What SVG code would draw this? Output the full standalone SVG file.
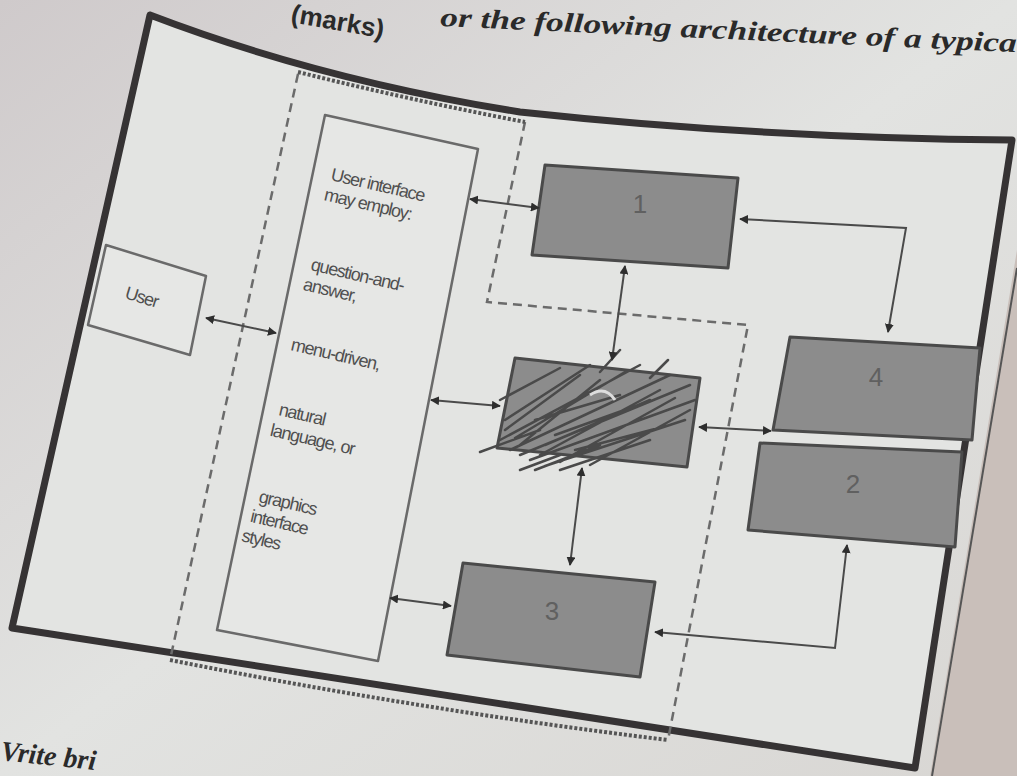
<svg xmlns="http://www.w3.org/2000/svg" width="1017" height="776" viewBox="0 0 1017 776">
<defs>
<linearGradient id="bg" x1="0" y1="0" x2="1" y2="1">
<stop offset="0" stop-color="#cfcacb"/>
<stop offset="0.5" stop-color="#e2e3e1"/>
<stop offset="1" stop-color="#d8d6d3"/>
</linearGradient>
<marker id="ah" viewBox="0 0 10 10" refX="9" refY="5" markerWidth="4.5" markerHeight="4.5" orient="auto-start-reverse">
<path d="M0,0 L10,5 L0,10 z" fill="#2e2e2e"/>
</marker>
<style>
.frame{fill:#e3e4e2;stroke:#363334;stroke-width:7;stroke-linejoin:round}
.dash{fill:none;stroke:#6b6b6b;stroke-width:2.5;stroke-dasharray:9 6}
.wavy{fill:none;stroke:#555;stroke-width:4;stroke-dasharray:3 2}
.box{fill:#8c8c8c;stroke:#4a4a4a;stroke-width:3;stroke-linejoin:round}
.wbox{fill:#e6e7e5;stroke:#6a6a6a;stroke-width:2.5;stroke-linejoin:round}
.con{fill:none;stroke:#4a4a4a;stroke-width:2;marker-start:url(#ah);marker-end:url(#ah)}
.t{font-family:"Liberation Sans",Arial,sans-serif;fill:#505050;font-size:18px;letter-spacing:-1.2px}
.num{font-family:"Liberation Sans",Arial,sans-serif;fill:#606060;font-size:26px;text-anchor:middle}
.hdr{font-family:"Liberation Serif","Times New Roman",serif;font-weight:bold;font-style:italic;fill:#2a2a2a;font-size:27px}
.scr{fill:none;stroke:#4a4a4a;stroke-width:2.5;stroke-linecap:round}
</style>
</defs>
<rect width="1017" height="776" fill="url(#bg)"/>
<polygon points="1017,250 1017,776 930,776" fill="#c9bfba"/>
<g id="header">
<text x="290" y="22" transform="rotate(10 290 22)" style="font-family:'Liberation Sans',Arial,sans-serif;font-weight:bold;fill:#2a2a2a;font-size:26px">(marks)</text>
<text class="hdr" x="440" y="26" textLength="577" lengthAdjust="spacingAndGlyphs" transform="rotate(2.6 440 26)">or the following architecture of a typica</text>
<text class="hdr" x="0" y="760" transform="rotate(6 0 760)" style="font-size:28px">Vrite bri</text>
</g>
<g id="frame">
<path class="frame" d="M150,15 Q320,80 520,112 Q760,138 1012,140 L915,768 L12,628 Z"/>
<path d="M1017,268 L932,776" fill="none" stroke="#555" stroke-width="2"/>
</g>
<g id="dashed-region">
<path class="dash" d="M298,74 L170,660"/>
<path class="dash" d="M525,122 L487,302 L748,325 L668,740"/>
<path class="wavy" d="M298,72 Q410,100 525,122"/>
<path class="wavy" d="M170,660 Q420,710 668,740"/>
</g>
<g id="user">
<polygon class="wbox" points="106,245 206,276 190,355 88,325"/>
<text class="t" x="124" y="298" transform="rotate(17 124 298)" style="font-size:18px">User</text>
</g>
<g id="ui">
<polygon class="wbox" points="325,115 478,149 378,661 217,630"/>
<g transform="rotate(13 330 180)">
<text class="t" x="330" y="180">User interface</text>
<text class="t" x="328" y="201">may employ:</text>
</g>
<g transform="rotate(13 310 270)">
<text class="t" x="310" y="270">question-and-</text>
<text class="t" x="307" y="291">answer,</text>
</g>
<text class="t" x="290" y="350" transform="rotate(13 290 350)">menu-driven,</text>
<g transform="rotate(13 278 415)">
<text class="t" x="278" y="415">natural</text>
<text class="t" x="274" y="437">language, or</text>
</g>
<g transform="rotate(13 258 502)">
<text class="t" x="258" y="502">graphics</text>
<text class="t" x="254" y="523">interface</text>
<text class="t" x="250" y="544">styles</text>
</g>
</g>
<g id="box1">
<polygon class="box" points="545,165 738,178 728,268 532,255"/>
<text class="num" x="640" y="213">1</text>
</g>
<g id="box-center">
<polygon class="box" points="515,358 700,378 687,467 497,448"/>
<path class="scr" d="M500,440 L640,365 M510,450 L670,375 M520,455 L690,385 M530,460 L695,400 M545,466 L685,420 M560,470 L650,440 M505,420 L590,365 M500,400 L560,368 M520,445 L600,380 M540,455 L660,390 M480,452 L540,430 M535,470 L600,445 M600,372 L620,350 M650,378 L668,360 M535,420 L620,395 M555,435 L630,408 M575,450 L670,425 M520,470 L560,455 M505,430 L580,375 M515,438 L625,372 M560,462 L675,398 M590,465 L690,410 M545,445 L650,400"/>
<path d="M590,395 Q605,385 615,400" fill="none" stroke="#ddd" stroke-width="3"/>
</g>
<g id="box4">
<polygon class="box" points="790,337 980,348 972,440 773,430"/>
<text class="num" x="876" y="386">4</text>
</g>
<g id="box2">
<polygon class="box" points="760,443 962,452 955,547 748,530"/>
<text class="num" x="853" y="493">2</text>
</g>
<g id="box3">
<polygon class="box" points="463,563 655,582 640,677 447,655"/>
<text class="num" x="552" y="620">3</text>
</g>
<g id="connectors">
<line class="con" x1="206" y1="318" x2="276" y2="333"/>
<line class="con" x1="470" y1="199" x2="539" y2="208"/>
<line class="con" x1="625" y1="266" x2="612" y2="360"/>
<polyline class="con" points="740,219 906,228 888,332"/>
<line class="con" x1="431" y1="400" x2="500" y2="406"/>
<line class="con" x1="699" y1="427" x2="771" y2="431"/>
<line class="con" x1="582" y1="468" x2="570" y2="565"/>
<line class="con" x1="390" y1="598" x2="451" y2="606"/>
<polyline class="con" points="655,632 835,648 847,545"/>
</g>
</svg>
